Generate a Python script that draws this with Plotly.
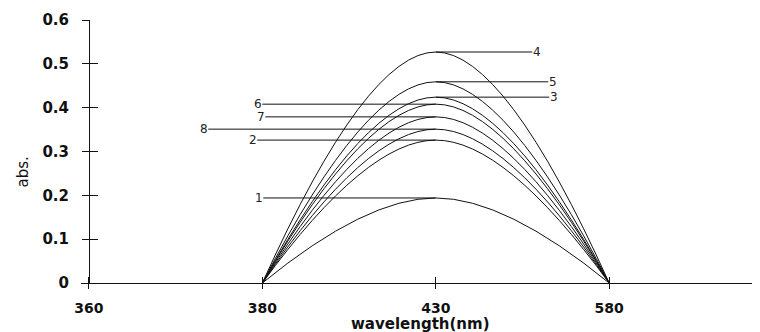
import plotly.graph_objects as go

# ---- data ----
tick_labels = ["360", "380", "430", "580"]          # x-axis category labels (nm)
wavelengths = ["380", "430", "580"]                 # measured wavelengths
series_names = ["1", "2", "3", "4", "5", "6", "7", "8"]
abs_1 = [0.0, 0.194, 0.0]
abs_2 = [0.0, 0.326, 0.0]
abs_3 = [0.0, 0.424, 0.0]
abs_4 = [0.0, 0.527, 0.0]
abs_5 = [0.0, 0.459, 0.0]
abs_6 = [0.0, 0.408, 0.0]
abs_7 = [0.0, 0.379, 0.0]
abs_8 = [0.0, 0.351, 0.0]
series_values = [abs_1, abs_2, abs_3, abs_4, abs_5, abs_6, abs_7, abs_8]

# label leader-line offsets (pixels, style only)
label_dx = {"1": -177, "2": -183, "3": 118, "4": 101, "5": 117, "6": -178, "7": -175, "8": -232}

# page body adds an 8px offset, so the figure is sized to fit the window
W, H = 752, 324
ML, MR, MT, MB = 73, 0, 12, 49
x_range = [-0.046, 3.87]
y_axis_pos = (0 - x_range[0]) / (x_range[1] - x_range[0])

xpos = [tick_labels.index(w) for w in wavelengths]
tickvals = list(range(len(tick_labels)))

fig = go.Figure()
for name, vals in zip(series_names, series_values):
    fig.add_trace(go.Scatter(
        x=xpos, y=vals, mode="lines", name=name,
        line=dict(color="#111111", width=1, shape="spline", smoothing=1.2),
        showlegend=False, hoverinfo="skip"))
    peak_i = max(range(len(vals)), key=lambda i: vals[i])
    fig.add_annotation(
        x=xpos[peak_i], y=vals[peak_i], xref="x", yref="y",
        text=name, showarrow=True, arrowhead=0, arrowwidth=1, arrowcolor="#111111",
        ax=label_dx[name], ay=0, axref="pixel", ayref="pixel",
        standoff=0, startstandoff=0, borderpad=0,
        font=dict(family="DejaVu Sans", size=12, color="#222222"))

# dummy trace to activate overlay axes (for crossing tick marks)
fig.add_trace(go.Scatter(x=[], y=[], xaxis="x2", yaxis="y2", showlegend=False))

tickfont = dict(family="DejaVu Sans", size=15, color="#111111", weight="bold")
xtickfont = dict(family="DejaVu Sans", size=14, color="#111111", weight="bold")

fig.update_layout(
    width=W, height=H,
    margin=dict(l=ML, r=MR, t=MT, b=MB),
    paper_bgcolor="white", plot_bgcolor="white",
    xaxis=dict(range=x_range, tickvals=tickvals, ticktext=tick_labels,
               showline=True, linecolor="#111111", linewidth=1,
               ticks="outside", ticklen=5, tickcolor="#111111", tickwidth=1,
               showgrid=False, zeroline=False, tickfont=xtickfont,
               ticklabelstandoff=7, anchor="y", automargin=False),
    yaxis=dict(range=[0, 0.6], dtick=0.1, anchor="free", position=y_axis_pos,
               showline=True, linecolor="#111111", linewidth=1,
               ticks="outside", ticklen=7, tickcolor="#111111", tickwidth=1,
               showgrid=False, zeroline=False, tickfont=tickfont,
               ticklabelstandoff=10, automargin=False),
    xaxis2=dict(range=x_range, tickvals=tickvals, overlaying="x", anchor="y2",
                ticks="inside", ticklen=6, tickcolor="#111111", showticklabels=False,
                showline=False, showgrid=False, zeroline=False, automargin=False),
    yaxis2=dict(range=[0, 0.6], dtick=0.1, overlaying="y", anchor="free",
                position=y_axis_pos, ticks="inside", ticklen=8, tickcolor="#111111",
                showticklabels=False, showline=False, showgrid=False, zeroline=False,
                automargin=False),
)

fig.add_annotation(text="abs.", xref="paper", yref="paper", x=-ML / (W - ML - MR),
                   xanchor="left", y=0.42, yanchor="middle", textangle=-90, showarrow=False,
                   xshift=4, font=dict(family="DejaVu Sans", size=15, color="#111111"))
fig.add_annotation(text="wavelength(nm)", xref="paper", yref="paper", x=0.5, y=0,
                   xanchor="center", yanchor="top", yshift=-31, showarrow=False, borderpad=0,
                   font=dict(family="DejaVu Sans", size=15, color="#111111", weight="bold"))

fig.write_html("out.html")
